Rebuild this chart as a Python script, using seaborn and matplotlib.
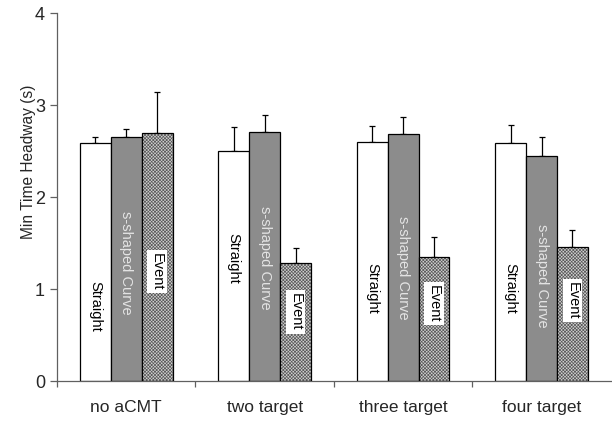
"""
Min Time Headway por condição
"""
import matplotlib
import matplotlib.pyplot as plt
import pandas as pd
import seaborn as sns
from matplotlib.patches import Rectangle

matplotlib.use("Agg")

# dados
categories = ["no aCMT", "two target", "three target", "four target"]
conditions = ["Straight", "s-shaped Curve", "Event"]

straight = [2.59, 2.50, 2.60, 2.59]
straight_err = [0.06, 0.26, 0.17, 0.19]
curve = [2.65, 2.71, 2.68, 2.45]
curve_err = [0.09, 0.18, 0.19, 0.20]
event = [2.70, 1.28, 1.35, 1.46]
event_err = [0.44, 0.17, 0.22, 0.18]

# posição vertical dos rótulos dentro das barras
straight_label_y = [0.81, 1.33, 1.01, 1.01]
curve_label_y = [1.28, 1.34, 1.23, 1.14]
event_label_y = [1.19, 0.75, 0.84, 0.87]

y_ticks = [0, 1, 2, 3, 4]

values = [straight, curve, event]
errors = [straight_err, curve_err, event_err]
label_ys = [straight_label_y, curve_label_y, event_label_y]

df = pd.DataFrame(
    {
        "category": [c for _ in conditions for c in categories],
        "condition": [cond for cond in conditions for _ in categories],
        "value": [v for vals in values for v in vals],
    }
)

sns.set_style("ticks")
plt.rcParams["font.family"] = ["Liberation Sans", "DejaVu Sans"]
plt.rcParams["hatch.linewidth"] = 0.5

fig = plt.figure(figsize=(6.12, 4.21), dpi=100)
ax = fig.add_axes([0.093, 0.095, 0.905, 0.874])

sns.barplot(
    data=df,
    x="category",
    y="value",
    hue="condition",
    order=categories,
    hue_order=conditions,
    palette=["white", "#8c8c8c", "white"],
    width=0.67,
    gap=0,
    edgecolor="black",
    linewidth=0.9,
    errorbar=None,
    legend=False,
    ax=ax,
    zorder=2,
)
bar_containers = list(ax.containers)

# barras hachuradas para "Event"
for bar in bar_containers[2]:
    x0, y0 = bar.get_x(), bar.get_y()
    w, h = bar.get_width(), bar.get_height()
    bar.set_facecolor("#d0d0d0")
    bar.set_hatch("xxxxxxxxxx")
    bar.set_edgecolor("#5a5a5a")
    bar.set_linewidth(0)
    ax.add_patch(
        Rectangle((x0, y0), w, h, fill=False, edgecolor="black", linewidth=0.9, zorder=3)
    )

# barras de erro (somente para cima) e rótulos
text_styles = [
    dict(color="black"),
    dict(color="#e4e4e4"),
    dict(color="black", bbox=dict(facecolor="white", edgecolor="none", pad=2)),
]
for k, container in enumerate(bar_containers):
    xs = [b.get_x() + b.get_width() / 2 for b in container]
    ax.errorbar(
        xs,
        values[k],
        yerr=[[0] * len(xs), errors[k]],
        fmt="none",
        ecolor="black",
        elinewidth=0.9,
        capsize=2.5,
        capthick=0.9,
        zorder=1,
    )
    for x, y in zip(xs, label_ys[k]):
        ax.text(
            x, y, conditions[k], rotation=-90, ha="center", va="center",
            fontsize=10.5, zorder=4, **text_styles[k]
        )

ax.set_ylim(0, 4)
ax.set_xlim(-0.5, 3.5)
ax.set_yticks(y_ticks)
ax.set_xticks(range(len(categories)))
ax.set_xticklabels(categories)
ax.set_xticks([-0.5, 0.5, 1.5, 2.5], minor=True)
ax.tick_params(axis="x", which="major", length=0, pad=14, labelsize=12.5)
ax.tick_params(axis="x", which="minor", length=4, width=0.9, color="#606060")
ax.tick_params(axis="y", length=5, width=0.9, color="#606060", labelsize=13)
ax.set_xlabel("")
ax.set_ylabel("Min Time Headway (s)", fontsize=11.2)
ax.yaxis.set_label_coords(-0.037, 0.595)

sns.despine(ax=ax)
for side in ["left", "bottom"]:
    ax.spines[side].set_color("#606060")
    ax.spines[side].set_linewidth(0.9)

fig.savefig("out.png", dpi=100)
